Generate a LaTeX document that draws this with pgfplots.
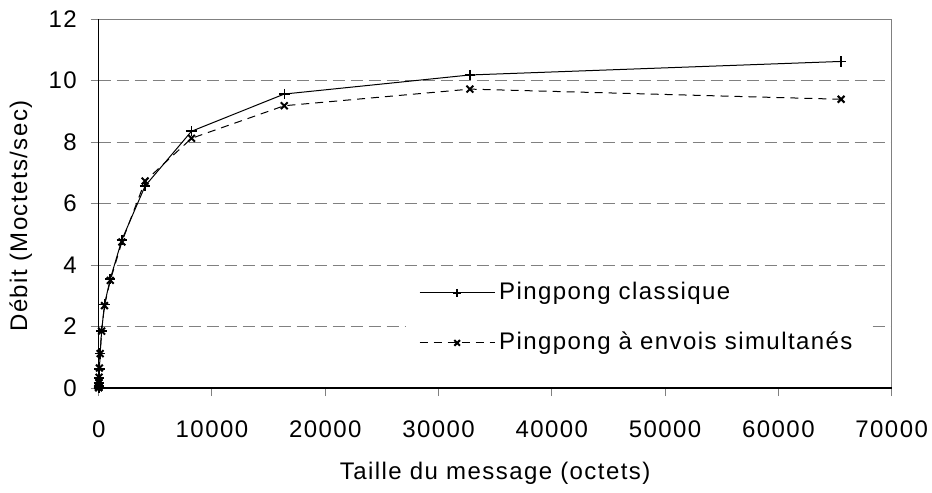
\documentclass[border=0pt]{standalone}
\usepackage{fontspec}
\setmainfont{Liberation Sans}[LetterSpace=6]
\usepackage{pgfplots}
\pgfplotsset{compat=1.18}

\begin{document}
\fontsize{12}{14}\selectfont
\begin{tikzpicture}
\begin{axis}[
  at={(0,0)}, anchor=south west,
  scale only axis, width=396.5pt, height=184.5pt,
  xmin=0, xmax=70000, ymin=0, ymax=12,
  xtick={0,10000,...,70000}, ytick={0,2,...,12},
  scaled x ticks=false,
  /pgf/number format/assume math mode=true,
  xticklabel style={/pgf/number format/fixed, /pgf/number format/1000 sep={}},
  tick pos=left, tick align=outside,
  major tick length=4pt,
  tick style={gray, line width=0.5pt},
  axis line style={gray, line width=0.5pt},
  ymajorgrids,
  grid style={gray, dashed, dash pattern=on 6pt off 3pt, line width=0.5pt},
  yticklabel style={anchor=east, inner sep=0pt, xshift=-6.8pt},
  xticklabel style={anchor=base, inner sep=0pt, yshift=-20.5pt},
  xlabel={Taille du message (octets)},
  ylabel={Débit (Moctets/sec)},
  xlabel style={at={(axis description cs:0.5,-0.2474)}, anchor=base},
  ylabel style={at={(axis description cs:-0.0904,0.466)}, anchor=base, rotate=0},
  legend cell align=left,
  legend style={at={(rel axis cs:0.9726,0.32)}, anchor=north east,
    draw=none, fill=white, inner xsep=6.5pt, inner ysep=4pt,
    row sep=10.5pt, font=\fontsize{12}{14}\selectfont},
  legend image code/.code={\draw[mark repeat=2,mark phase=2,#1,mark size=2pt]
    plot coordinates {(0pt,0pt) (18.75pt,0pt) (37.5pt,0pt)};},
  after end axis/.code={\draw[black, line width=0.6pt] (rel axis cs:0,1) -- (rel axis cs:0,0) -- (rel axis cs:1,0);},
]
\addplot[black, line width=0.5pt, mark=+, mark size=2.6pt, mark options={solid, line width=0.8pt}] coordinates {
  (1,0.01) (2,0.02) (4,0.04) (8,0.08) (16,0.16) (32,0.33) (64,0.62) (128,1.12)
  (256,1.85) (512,2.72) (1024,3.55) (2048,4.82) (4096,6.57) (8192,8.35)
  (16384,9.56) (32768,10.18) (65536,10.62)
};
\addlegendentry{Pingpong classique}
\addplot[black, line width=0.5pt, dash pattern=on 4pt off 3pt, mark=x, mark size=2.4pt, mark options={solid, line width=1pt}] coordinates {
  (1,0.01) (2,0.02) (4,0.04) (8,0.08) (16,0.17) (32,0.35) (64,0.65) (128,1.12)
  (256,1.85) (512,2.68) (1024,3.50) (2048,4.75) (4096,6.73) (8192,8.12)
  (16384,9.18) (32768,9.72) (65536,9.39)
};
\addlegendentry{Pingpong à envois simultanés}
\end{axis}
\path (-49.35pt,-50pt) rectangle (416.65pt,194pt);
\end{tikzpicture}
\end{document}
